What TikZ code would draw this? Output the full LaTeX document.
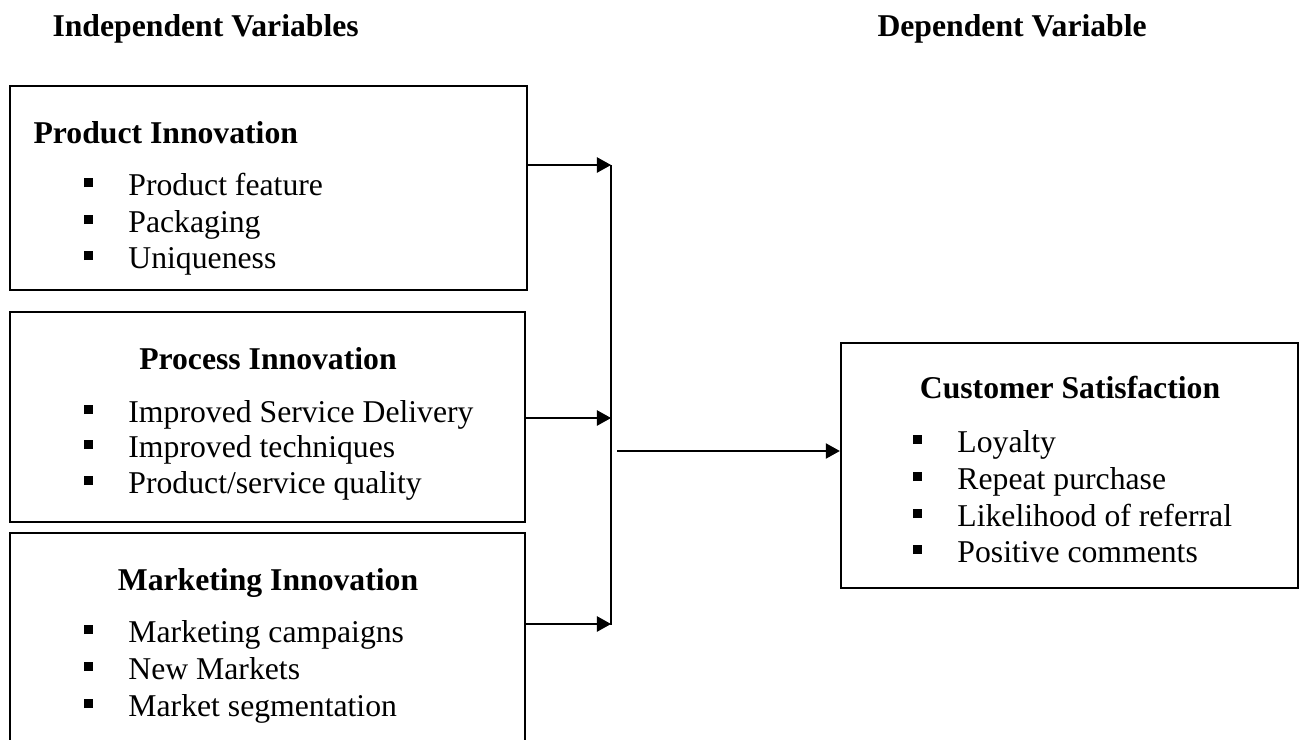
\documentclass[tikz,border=0pt]{standalone}
\usepackage{fontspec}
\setmainfont{Liberation Serif}
\usetikzlibrary{arrows.meta,fit}

\newcommand{\figfont}{\fontsize{12}{14}\selectfont}
\newcommand{\sqbul}{\makebox[17pt][l]{\raisebox{3pt}{\rule{3.5pt}{3.5pt}}}}

\tikzset{
  varbox/.style={draw, line width=0.9pt, inner sep=0pt},
  heading/.style={font=\figfont\bfseries, anchor=base west, inner sep=0pt},
  boxtitle/.style={font=\figfont\bfseries, anchor=base, inner sep=0pt},
  item/.style={font=\figfont, anchor=base west, inner sep=0pt},
  link/.style={line width=0.45pt, -{Triangle[length=5.3pt,width=5.8pt]}},
  bus/.style={line width=0.5pt}
}

\begin{document}
\begin{tikzpicture}[x=0.3785pt, y=-0.3785pt]
\useasboundingbox (0,0) rectangle (1303,740);
\clip (0,0) rectangle (1303,740);

% headings
\node[heading] (indep) at (52,36) {Independent Variables};
\node[heading] (dep) at (877,36) {Dependent Variable};

% independent variable boxes
\node[varbox, fit={(10,86) (527,290)}] (prod) {};
\node[varbox, fit={(10,312) (525,522)}] (proc) {};
\node[varbox, fit={(10,533) (525,760)}] (mark) {};

\node[heading] (prodt) at (33,143) {Product Innovation};
\node[item] (prod1) at (83,195) {\sqbul Product feature};
\node[item] (prod2) at (83,232) {\sqbul Packaging};
\node[item] (prod3) at (83,268) {\sqbul Uniqueness};

\node[boxtitle] (proct) at (268,369) {Process Innovation};
\node[item] (proc1) at (83,422) {\sqbul Improved Service Delivery};
\node[item] (proc2) at (83,457) {\sqbul Improved techniques};
\node[item] (proc3) at (83,493) {\sqbul Product/service quality};

\node[boxtitle] (markt) at (268,590) {Marketing Innovation};
\node[item] (mark1) at (83,642) {\sqbul Marketing campaigns};
\node[item] (mark2) at (83,679) {\sqbul New Markets};
\node[item] (mark3) at (83,716) {\sqbul Market segmentation};

% dependent variable box
\node[varbox, fit={(841,343) (1298,588)}] (sat) {};
\node[boxtitle] (satt) at (1070,398) {Customer Satisfaction};
\node[item] (sat1) at (912,452) {\sqbul Loyalty};
\node[item] (sat2) at (912,489) {\sqbul Repeat purchase};
\node[item] (sat3) at (912,526) {\sqbul Likelihood of referral};
\node[item] (sat4) at (912,562) {\sqbul Positive comments};

% connectors
\coordinate (bustop) at (611,165);
\coordinate (busmid) at (611,418);
\coordinate (busbot) at (611,624);
\coordinate (busout) at (617,451);
\draw[bus] (bustop) -- ([yshift=-0.5pt]busbot);
\draw[link] (prod.east |- bustop) -- (bustop);
\draw[link] (proc.east |- busmid) -- (busmid);
\draw[link] (mark.east |- busbot) -- (busbot);
\draw[link] (busout) -- (busout -| sat.west);
\end{tikzpicture}
\end{document}
